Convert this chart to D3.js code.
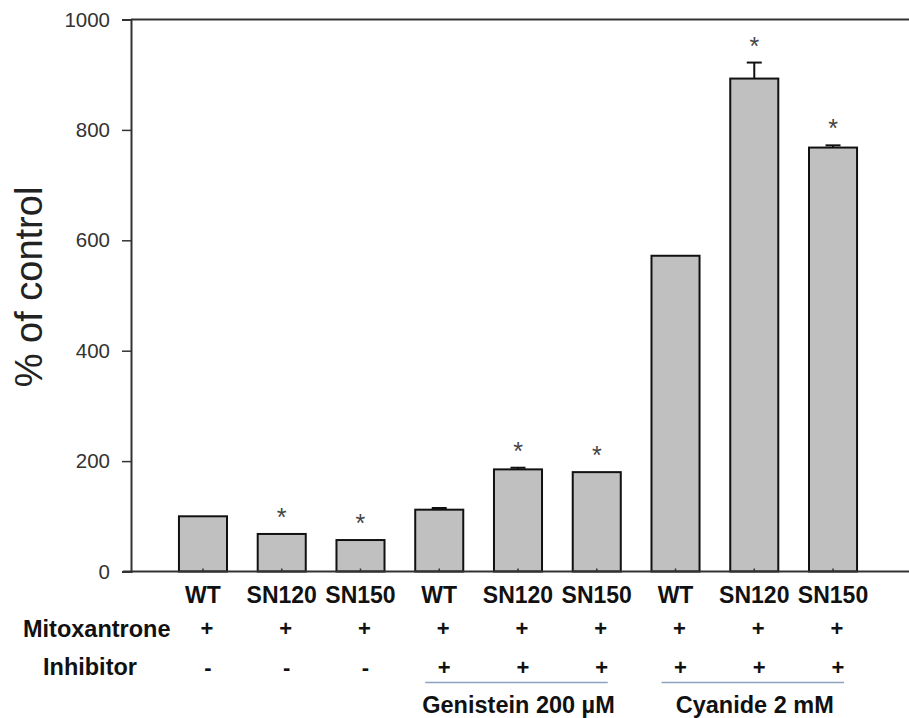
<!DOCTYPE html>
<html>
<head>
<meta charset="utf-8">
<script src="https://cdn.jsdelivr.net/npm/d3@7"></script>
<style>
  html, body { margin: 0; padding: 0; background: #fff; }
  svg { display: block; font-family: "Liberation Sans", Arial, sans-serif; }
</style>
</head>
<body>
<svg id="chart" width="909" height="718"></svg>
<script>
const categories = ["WT", "SN120", "SN150", "WT", "SN120", "SN150", "WT", "SN120", "SN150"];
const values = [100, 68, 57, 112, 185, 180, 572, 893, 768];
const errors = [0, 0, 0, 3, 3, 0, 0, 29, 4];
const significant = [false, true, true, false, true, true, false, true, true];
const mitoxantrone = ["+", "+", "+", "+", "+", "+", "+", "+", "+"];
const inhibitor = ["-", "-", "-", "+", "+", "+", "+", "+", "+"];
const groups = [
  { label: "Genistein 200 µM", from: 3, to: 5 },
  { label: "Cyanide 2 mM", from: 6, to: 8 }
];
const yTicks = [0, 200, 400, 600, 800, 1000];
const yTitle = "% of control";
const rowLabels = ["Mitoxantrone", "Inhibitor"];

const svg = d3.select("#chart");
const mLeft = 131, mRight = 909, mTop = 19.5, mBottom = 571.5;

const x = d3.scaleBand()
  .domain(d3.range(categories.length))
  .range([163.6, 872.4])
  .paddingInner(0.39)
  .paddingOuter(0.195);
const y = d3.scaleLinear().domain([0, 1000]).range([mBottom, mTop]);
const cx = i => x(i) + x.bandwidth() / 2;

// top frame line
svg.append("line")
  .attr("x1", mLeft).attr("x2", mRight)
  .attr("y1", y(1000)).attr("y2", y(1000))
  .attr("stroke", "#333").attr("stroke-width", 2);

// bars
svg.append("g").selectAll("rect")
  .data(values)
  .join("rect")
  .attr("x", (d, i) => x(i))
  .attr("y", d => y(d))
  .attr("width", x.bandwidth())
  .attr("height", d => y(0) - y(d))
  .attr("fill", "#c0c0c0")
  .attr("stroke", "#111")
  .attr("stroke-width", 2);

// error bars (upper only)
const eb = svg.append("g").attr("stroke", "#111").attr("stroke-width", 2);
values.forEach((v, i) => {
  if (errors[i] <= 0) return;
  eb.append("line").attr("x1", cx(i)).attr("x2", cx(i))
    .attr("y1", y(v)).attr("y2", y(v + errors[i]));
  eb.append("line").attr("x1", cx(i) - 7.5).attr("x2", cx(i) + 7.5)
    .attr("y1", y(v + errors[i])).attr("y2", y(v + errors[i]));
});

// asterisks
svg.append("g").selectAll("text")
  .data(values.map((v, i) => ({ v, i })).filter(d => significant[d.i]))
  .join("text")
  .attr("x", d => cx(d.i))
  .attr("y", d => y(d.v + errors[d.i]) - 8)
  .attr("text-anchor", "middle")
  .attr("font-size", 25)
  .attr("fill", "#444")
  .text("*");

// y axis
const yAxis = svg.append("g")
  .attr("transform", `translate(${mLeft},0)`)
  .call(d3.axisLeft(y).tickValues(yTicks).tickSize(9).tickPadding(12).tickFormat(d3.format("d")));
yAxis.select(".domain").attr("stroke", "#333").attr("stroke-width", 2);
yAxis.selectAll(".tick line").attr("stroke", "#333").attr("stroke-width", 1.5);
yAxis.selectAll(".tick text").attr("font-size", 20.5).attr("fill", "#333")
  .attr("font-family", "Liberation Sans, Arial, sans-serif");

// x axis line
svg.append("line")
  .attr("x1", 123).attr("x2", mRight)
  .attr("y1", y(0)).attr("y2", y(0))
  .attr("stroke", "#333").attr("stroke-width", 2);
// small inward ticks
svg.append("g").selectAll("line")
  .data(categories)
  .join("line")
  .attr("x1", (d, i) => cx(i)).attr("x2", (d, i) => cx(i))
  .attr("y1", y(0)).attr("y2", y(0) - 3)
  .attr("stroke", "#333").attr("stroke-width", 1.5);

// y title
svg.append("text")
  .attr("transform", "translate(42,287) rotate(-90)")
  .attr("text-anchor", "middle")
  .attr("font-size", 38)
  .attr("fill", "#222")
  .text(yTitle);

// category labels
svg.append("g").selectAll("text")
  .data(categories)
  .join("text")
  .attr("x", (d, i) => cx(i))
  .attr("y", 603)
  .attr("text-anchor", "middle")
  .attr("font-size", 23)
  .attr("font-weight", "bold")
  .attr("fill", "#111")
  .text(d => d);

// row labels
svg.append("text").attr("x", 23).attr("y", 636.5)
  .attr("font-size", 23.5).attr("font-weight", "bold").attr("fill", "#111")
  .text(rowLabels[0]);
svg.append("text").attr("x", 43).attr("y", 674.5)
  .attr("font-size", 23.5).attr("font-weight", "bold").attr("fill", "#111")
  .text(rowLabels[1]);

// +/- rows
svg.append("g").selectAll("text")
  .data(mitoxantrone)
  .join("text")
  .attr("x", (d, i) => cx(i) + 4)
  .attr("y", 636)
  .attr("text-anchor", "middle")
  .attr("font-size", 22).attr("font-weight", "bold").attr("fill", "#111")
  .text(d => d);
svg.append("g").selectAll("text")
  .data(inhibitor)
  .join("text")
  .attr("x", (d, i) => cx(i) + 5)
  .attr("y", 675)
  .attr("text-anchor", "middle")
  .attr("font-size", 22).attr("font-weight", "bold").attr("fill", "#111")
  .text(d => d);

// group brackets + labels
groups.forEach(g => {
  const x1 = cx(g.from) - 14, x2 = cx(g.to) + 11;
  svg.append("line")
    .attr("x1", x1).attr("x2", x2)
    .attr("y1", 682.5).attr("y2", 682.5)
    .attr("stroke", "#8ea2c0").attr("stroke-width", 1.6);
  svg.append("text")
    .attr("x", (x1 + x2) / 2 + 2)
    .attr("y", 713)
    .attr("text-anchor", "middle")
    .attr("font-size", 23.5).attr("font-weight", "bold").attr("fill", "#111")
    .text(g.label);
});
</script>
</body>
</html>
